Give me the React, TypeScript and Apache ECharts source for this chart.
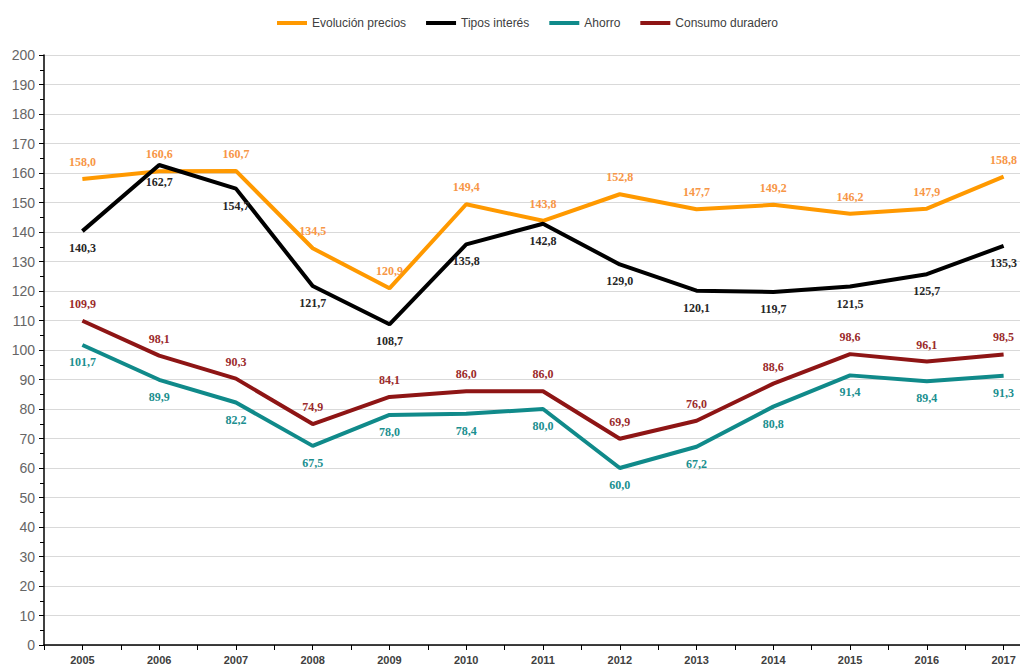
import React, { useEffect, useRef } from "react";
import * as echarts from "echarts";

const years = ["2005", "2006", "2007", "2008", "2009", "2010", "2011", "2012", "2013", "2014", "2015", "2016", "2017"];
const evolucionPrecios = [158.0, 160.6, 160.7, 134.5, 120.9, 149.4, 143.8, 152.8, 147.7, 149.2, 146.2, 147.9, 158.8];
const tiposInteres = [140.3, 162.7, 154.7, 121.7, 108.7, 135.8, 142.8, 129.0, 120.1, 119.7, 121.5, 125.7, 135.3];
const ahorro = [101.7, 89.9, 82.2, 67.5, 78.0, 78.4, 80.0, 60.0, 67.2, 80.8, 91.4, 89.4, 91.3];
const consumoDuradero = [109.9, 98.1, 90.3, 74.9, 84.1, 86.0, 86.0, 69.9, 76.0, 88.6, 98.6, 96.1, 98.5];

const fmt = (p: any) => Number(p.value).toFixed(1).replace(".", ",");

function mkSeries(name: string, data: number[], color: string, labelColor: string, pos: string) {
  return {
    name,
    type: "line",
    data,
    xAxisIndex: 0,
    yAxisIndex: 0,
    symbol: "circle",
    symbolSize: 0,
    showSymbol: true,
    lineStyle: { color, width: 4 },
    itemStyle: { color },
    label: {
      show: true,
      position: pos,
      distance: 11,
      formatter: fmt,
      color: labelColor,
      fontFamily: "Liberation Serif",
      fontWeight: "bold",
      fontSize: 12,
    },
    emphasis: { disabled: true },
  };
}

export default function App() {
  const ref = useRef<HTMLDivElement>(null);
  useEffect(() => {
    if (!ref.current) return;
    const chart = echarts.init(ref.current, null, { renderer: "svg" });
    chart.setOption({
      animation: false,
      backgroundColor: "#ffffff",
      legend: {
        top: 12,
        left: 272,
        icon: "rect",
        itemWidth: 30,
        itemHeight: 4,
        itemGap: 20,
        textStyle: { color: "#404040", fontSize: 12, fontFamily: "Liberation Sans Narrow, Liberation Sans, sans-serif" },
        data: ["Evolución precios", "Tipos interés", "Ahorro", "Consumo duradero"],
      },
      grid: { left: 44, top: 55, height: 590, width: 998, containLabel: false, outerBoundsMode: "none" },
      xAxis: [
        {
          type: "category",
          data: years,
          boundaryGap: true,
          axisLine: { lineStyle: { color: "#000", width: 1.5 } },
          axisTick: { show: false },
          axisLabel: {
            color: "#404040",
            fontWeight: "bold",
            fontSize: 11,
            fontFamily: "Liberation Sans Narrow, Liberation Sans, sans-serif",
            margin: 9,
            interval: 0,
          },
          splitLine: { show: false },
        },
        {
          type: "value",
          min: -0.5,
          max: 12.5,
          interval: 0.5,
          position: "bottom",
          axisLine: { show: false, onZero: false },
          axisLabel: { show: false },
          axisTick: { show: true, length: 5, lineStyle: { color: "#000", width: 1 } },
          splitLine: { show: false },
        },
      ],
      yAxis: {
        type: "value",
        min: 0,
        max: 200,
        interval: 10,
        axisLine: { show: true, onZero: false, lineStyle: { color: "#000", width: 1.5 } },
        axisTick: { show: true, length: 5, lineStyle: { color: "#000" } },
        minorTick: { show: true, splitNumber: 2, length: 4, lineStyle: { color: "#000" } },
        axisLabel: { color: "#666666", fontSize: 14, fontFamily: "Liberation Sans, Arial, sans-serif", margin: 9 },
        splitLine: { show: true, lineStyle: { color: "#D9D9D9", width: 1 } },
      },
      series: [
        mkSeries("Evolución precios", evolucionPrecios, "#FF9900", "#F79646", "top"),
        mkSeries("Tipos interés", tiposInteres, "#000000", "#262626", "bottom"),
        mkSeries("Ahorro", ahorro, "#108A8A", "#1B8F8F", "bottom"),
        mkSeries("Consumo duradero", consumoDuradero, "#8E1515", "#9B2B2B", "top"),
      ],
    });
    return () => chart.dispose();
  }, []);
  return <div ref={ref} style={{ position: "absolute", left: 0, top: 0, width: 1020, height: 668 }} />;
}
